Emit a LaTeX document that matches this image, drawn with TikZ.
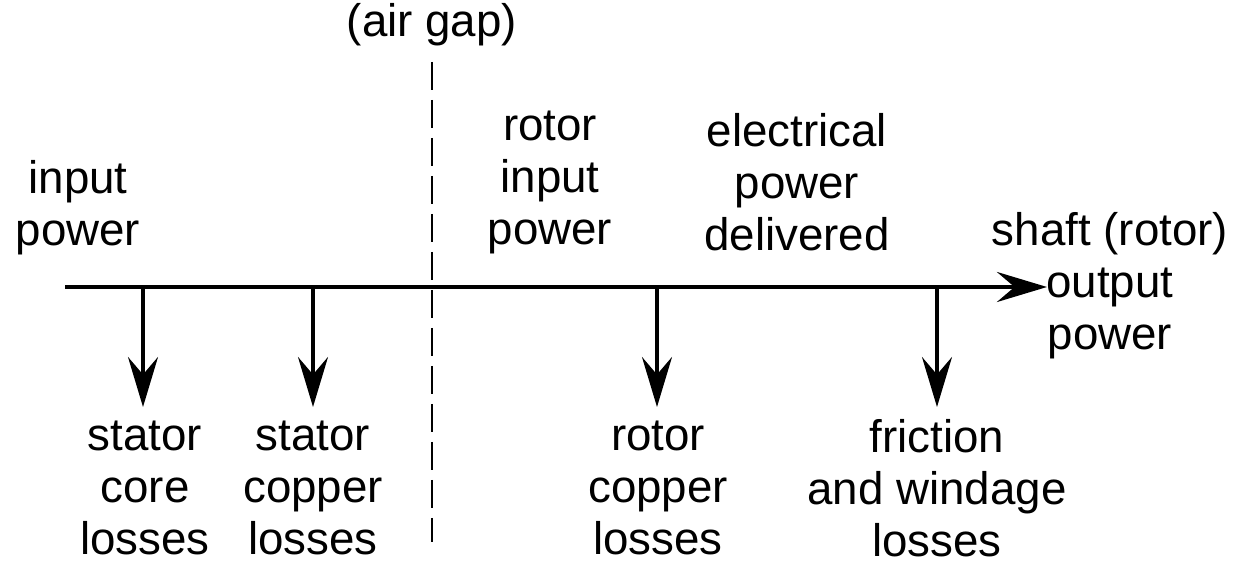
\documentclass[tikz,border=0pt]{standalone}
\usepackage{fontspec}
\setmainfont{Liberation Sans}
\usetikzlibrary{arrows.meta, positioning}

\begin{document}
\begin{tikzpicture}[x=0.02cm, y=-0.02cm]
% Define styles
\tikzstyle{label} = [align=center, inner sep=0pt, font=\fontsize{26}{29.6}\selectfont]
\tikzstyle{flow} = [line width=2.4pt, -{Stealth[length=1.0cm, width=0.6cm, inset=0.35cm]}]
\tikzstyle{loss} = [line width=2.1pt, -{Stealth[length=1.0cm, width=0.6cm, inset=0.35cm]}]
\tikzstyle{gap} = [line width=1.4pt, dash pattern=on 0.56cm off 0.2cm]

\useasboundingbox (0,0) rectangle (1259,564);

% Main power flow
\coordinate (start) at (65,287);
\coordinate (end) at (1047,287);
\draw [flow] (start) -- (end);

% Air gap
\node (airgap) [label] at (432,25) {(air gap)};
\coordinate (gaptop) at (432,62);
\coordinate (gapbot) at (432,542);
\draw [gap] (gaptop) -- (gapbot);

% Upper labels
\node (input) [label] at (78,208) {input\\power};
\node (rotorin) [label] at (550,182) {rotor\\input\\power};
\node (elec) [label] at (797,182) {electrical\\power\\delivered};
\node (shaft) [label] at (1110,286) {shaft (rotor)\\output\\power};

% Losses
\foreach \x/\name in {143/statorcore, 313/statorcu, 657/rotorcu, 937/friction} {
  \coordinate (\name top) at (\x,287);
  \coordinate (\name tip) at (\x,407);
  \draw [loss] (\name top) -- (\name tip);
}
\node (statorcoretxt) [label] at (145,488) {stator\\core\\losses};
\node (statorcutxt) [label] at (313,488) {stator\\copper\\losses};
\node (rotorcutxt) [label] at (658,488) {rotor\\copper\\losses};
\node (frictiontxt) [label] at (937,488) {friction\\and windage\\losses};
\end{tikzpicture}
\end{document}
